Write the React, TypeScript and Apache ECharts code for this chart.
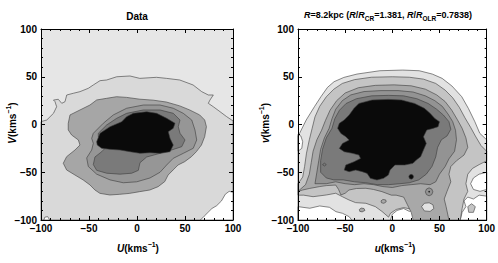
import React, { useEffect, useRef } from "react";
import * as echarts from "echarts";

// ---------- Left panel ("Data") contour outlines, in (U, V) km/s ----------
const leftFull = [[-100, -100], [100, -100], [100, 100], [-100, 100]];
const leftL2 = [
  [-100, -100], [-100, 3], [-94, 4.7], [-87, 11.7], [-83.7, 18.6], [-85.4, 23.9], [-87, 25.6], [-82, 26.4],
  [-78.4, 22.2], [-75, 23.9], [-73.2, 30.9], [-66.3, 32.7], [-59.4, 34.4], [-50.7, 37.9], [-45.5, 41.4],
  [-38.5, 45.9], [-31.6, 46.6], [-21.1, 50], [-7.3, 50.8], [2.9, 48.3], [20.3, 49.4], [30.7, 48.3],
  [44.5, 46.6], [58.4, 41.4], [67.4, 34.4], [74.3, 30.9], [79.5, 30.9], [76, 25.6], [74.3, 22.2],
  [79.5, 18.6], [86.5, 13.4], [93.4, 8.2], [98.6, 4.7], [100, 4], [100, -100],
];
const leftWhiteBR = [[66, -100], [70, -96], [74, -92], [78, -88], [83, -85], [88, -80], [92, -73], [96, -70], [100, -71], [100, -100]];
const leftWhiteBL = [[-97, -100], [-96, -97], [-93, -96.5], [-91, -100]];
const leftL3 = [
  [-71.6, 1.2], [-69.8, 10], [-59.4, 15.2], [-49, 20.4], [-42, 25.7], [-31.7, 27.4], [-21.3, 29.1],
  [-10.9, 28.4], [2.9, 26.5], [16.8, 25.5], [30.7, 23.5], [44.5, 19.5], [54.9, 15.2], [65.3, 10],
  [70.5, 4.7], [72.3, -2.3], [70.5, -12.7], [67.1, -21.5], [61.9, -28.4], [56.7, -33.7], [49.7, -38.9],
  [42.8, -42.4], [37.6, -47.6], [32.4, -52.9], [28.9, -59.8], [22, -65.1], [13.3, -68.6], [2.9, -70.3],
  [-7.5, -72.1], [-17.9, -73.1], [-28.3, -73.8], [-38.6, -72.1], [-43.8, -68.6], [-49, -63.3],
  [-56, -58.1], [-64.6, -52.9], [-73.3, -47.6], [-76.8, -40.6], [-73.3, -33.7], [-64.6, -26.7],
  [-59.4, -21.5], [-61.1, -16.2], [-68.1, -11], [-71.6, -5.7],
];
const leftL4 = [
  [-47.2, -14.5], [-45.5, -9.2], [-35.1, 1.3], [-24.7, 10], [-10.8, 17], [6.6, 20.4], [24, 20.4],
  [37.8, 17], [48.2, 11.7], [57, 4.7], [60.4, -5.8], [62.2, -16.2], [58.6, -24.9], [48.2, -30.2],
  [37.8, -35.4], [30.9, -42.4], [24, -50], [13.5, -56], [-0.3, -60], [-14.3, -61], [-28.1, -58],
  [-42, -52], [-50.7, -44], [-52.4, -35], [-47.2, -26.7], [-45.5, -19.7],
];
const leftL5 = [
  [-40.3, -12.8], [-40.3, -9.2], [-31.6, -0.5], [-21.1, 6.5], [-10.8, 11.7], [6.6, 15.2], [24, 15.2],
  [37.8, 11.7], [44.8, 4.7], [43, -2.3], [44.8, -9.2], [50, -16.2], [46.6, -23.2], [36.1, -26.7],
  [24, -30.2], [10.1, -34], [3.1, -40], [1.4, -48], [-5.5, -51], [-17.7, -52], [-31.6, -51],
  [-42, -48], [-45.5, -42], [-43.8, -34], [-36.8, -28.5], [-31.6, -23.2], [-35.1, -18],
];
const leftL6 = [
  [-42, -18], [-38.5, -9.2], [-28.1, -2.3], [-15.9, 2.9], [-10.8, 8.2], [-3.9, 11.7], [10.1, 13.4],
  [20.5, 11.7], [30.9, 6.5], [39.6, 1.3], [37.8, -4], [32.6, -7.5], [34.4, -14.5], [37.8, -21.5],
  [34.4, -28.5], [24, -30.2], [13.5, -29.5], [3.1, -30.2], [-7.3, -28.5], [-17.7, -26.7],
  [-28.1, -26], [-36.8, -24.9], [-41.4, -21.5],
];

// ---------- Right panel (model) contour outlines, in (u, v) km/s ----------
const rightL1 = [
  [-100, -100], [-100, -12], [-98.3, -9.2], [-91.3, 4.7], [-82.6, 18.6], [-75.7, 29.1], [-68.7, 38.9],
  [-61.8, 44.8], [-51.4, 49.3], [-37.5, 52.8], [-13.2, 56.3], [11.1, 57], [28.5, 56.3], [42.4, 52.8],
  [52.8, 48.3], [63.2, 40.3], [73.6, 29.1], [80.6, 16.9], [87.5, 2.9], [92.7, -9.2], [100, -16], [100, -100],
];
const rightWhiteL = [[-100, -10], [-97, -12], [-95, -18], [-96, -25], [-100, -28]];
const rightWhiteBL = [[-100, -86], [-87.5, -87.7], [-77, -85.3], [-66.7, -86.7], [-59.7, -91.3], [-52.8, -93], [-45.8, -96.5], [-43, -100], [-100, -100]];
const rightWhiteBC = [[-2, -100], [0, -94], [5, -90], [12, -88], [18, -91], [24, -89], [30, -92], [33, -100]];
const rightWhiteR1 = [[100, -50], [92, -52], [86, -56], [83, -62], [86, -68], [93, -70], [100, -68]];
const rightWhiteR2 = [[72, -100], [74, -92], [78, -86], [76, -80], [80, -76], [86, -78], [92, -74], [100, -75], [100, -100]];
const rightBlobR = [[80, -86], [84, -83], [88, -86], [86, -92], [81, -92]];
const rightL2 = [
  [-100, -74], [-100, -62], [-95, -55], [-93, -44], [-91, -30], [-88, -16], [-85, -4], [-82, 8], [-77, 19],
  [-70, 29], [-62, 37], [-53, 43], [-40, 47], [-22, 49.5], [0, 50], [18, 49.5], [33, 47.5], [46, 43],
  [56, 36], [64, 28], [71, 18], [77, 7], [83, -3], [88, -12], [94, -22], [100, -28], [100, -38], [92, -42],
  [85, -46], [80, -52], [78, -62], [80, -70], [76, -78], [74, -88], [72, -100], [34, -100], [30, -93],
  [22, -89], [12, -87], [4, -89], [-2, -93], [-4, -97], [-11, -91], [-18, -86], [-28, -82.5], [-39, -81.8],
  [-46, -79], [-53, -75.6], [-60, -72], [-70, -73.8], [-84, -75.6], [-94, -74],
];
const rightL3 = [
  [-100, -70], [-92, -63], [-88, -52], [-86, -40], [-84, -28], [-80, -16], [-75, -6], [-71, 4], [-66, 15],
  [-59, 25], [-50, 33], [-36, 38.5], [-18, 41], [2, 41.5], [20, 40.5], [35, 37], [47, 31], [56, 24],
  [63, 15], [69, 5], [74, -4], [78, -14], [80, -24], [76, -32], [68, -38], [62, -44], [60, -52], [62, -60],
  [58, -70], [55, -78], [57, -86], [60, -100], [22, -100], [20, -92], [16, -84], [12, -76], [4, -74],
  [-1, -74], [-11, -70.3], [-20, -68], [-28, -66.8], [-38, -67], [-46, -68.6], [-50, -72], [-54.5, -73.8],
  [-57, -68], [-60, -63.4], [-70, -64], [-77, -65], [-88, -67], [-95, -68.6],
];
const rightL4 = [
  [-82, -62], [-80, -50], [-78, -38], [-76, -26], [-72, -14], [-67, -4], [-64, 6], [-60, 16], [-53, 25],
  [-44, 31], [-30, 34.5], [-12, 35.5], [6, 35.5], [22, 34], [35, 30], [45, 25], [53, 19], [59, 11],
  [64, 3], [67, -6], [68, -16], [66, -28], [60, -36], [56, -44], [50, -52], [46, -60], [40, -63],
  [30, -62], [20, -63], [10, -64], [0, -66], [-10, -65], [-20, -63], [-30, -62], [-40, -63], [-50, -62],
  [-60, -60], [-70, -62],
];
const rightL5 = [
  [-76, -50], [-76, -38], [-74, -26], [-70, -14], [-64, -4], [-61, 6], [-56, 15], [-49, 22], [-38, 27],
  [-22, 30], [-4, 30.5], [12, 30], [26, 27], [38, 22], [47, 16], [54, 10], [60, 3], [62, -5], [58, -12],
  [52, -16], [48, -24], [46, -34], [42, -44], [36, -52], [28, -58], [18, -61], [8, -62], [-4, -63],
  [-16, -63], [-28, -61], [-40, -60], [-52, -58], [-62, -58], [-70, -56],
];
const rightL6 = [
  [-40.6, 16.9], [-35.4, 22.1], [-21.5, 25.6], [-4.2, 26.3], [9.7, 25.6], [23.6, 22.1], [34, 16.9],
  [40, 11.7], [45, 6.4], [50, 2.9], [48.5, -2.3], [43, -4.1], [36.5, -5.8], [33, -12.8], [36, -19.8],
  [33, -26.7], [30, -33.7], [25.4, -37.2], [21.9, -40.7], [13.2, -42.4], [2.8, -42.4], [-2.4, -47.7],
  [-4.2, -52.9], [-9.4, -56.4], [-16.3, -58.1], [-23.3, -56.4], [-26.7, -51.2], [-31.9, -49.4],
  [-38.9, -47.7], [-45.8, -49.4], [-51, -47.7], [-49.3, -42.4], [-40.6, -39], [-33.7, -35.5],
  [-35.4, -32], [-42.3, -30.2], [-51, -28.5], [-56.2, -25], [-52.8, -19.8], [-45.8, -16.3],
  [-49.3, -12.8], [-54.5, -9.3], [-58, -4], [-56.2, 1.2], [-51, 4.7], [-45.8, 9.9],
];
const rightDot1 = [[17.5, -54.7], [18.2, -52.9], [20, -52.2], [21.8, -52.9], [22.5, -54.7], [21.8, -56.5], [20, -57.2], [18.2, -56.5]];
const rightRing = [[35, -70.5], [36.2, -67.6], [39, -66.3], [41.8, -67.6], [43, -70.5], [41.8, -73.4], [39, -74.7], [36.2, -73.4]];
const rightRingDot = [[38, -70.5], [39, -69.5], [40, -70.5], [39, -71.5]];
const rightBlobA = [[-35, -89], [-33, -87.5], [-30, -88], [-29, -90], [-32, -91.5], [-34.5, -91]];
const rightBlobB = [[-12, -80], [-10, -78.5], [-7, -79], [-6.5, -81], [-9, -82.5], [-11.5, -82]];
const rightBlobC = [[31, -86], [34, -82.5], [39, -82], [43, -84], [44, -88], [40, -91], [34, -90.5]];
const rightBlobD = [[-74, -42], [-72, -40.5], [-70, -42], [-72, -43.5]];

// level colours
const leftColors = ["#e6e6e6", "#d9d9d9", "#ffffff", "#a6a6a6", "#969696", "#7a7a7a", "#0a0a0a"];
const rightColors = ["#ffffff", "#e2e2e2", "#c4c4c4", "#a8a8a8", "#939393", "#7a7a7a", "#0a0a0a"];

type Layer = { pts: number[][]; level: number; line: boolean };

const leftLayers: Layer[] = [
  { pts: leftFull, level: 0, line: false },
  { pts: leftL2, level: 1, line: true },
  { pts: leftWhiteBR, level: 2, line: true },
  { pts: leftWhiteBL, level: 2, line: true },
  { pts: leftL3, level: 3, line: true },
  { pts: leftL4, level: 4, line: true },
  { pts: leftL5, level: 5, line: true },
  { pts: leftL6, level: 6, line: true },
];
const rightLayers: Layer[] = [
  { pts: rightL1, level: 1, line: true },
  { pts: rightWhiteL, level: 0, line: true },
  { pts: rightWhiteBL, level: 0, line: true },
  { pts: rightWhiteBC, level: 0, line: true },
  { pts: rightWhiteR1, level: 0, line: true },
  { pts: rightWhiteR2, level: 0, line: true },
  { pts: rightBlobR, level: 2, line: true },
  { pts: rightL2, level: 2, line: true },
  { pts: rightL3, level: 3, line: true },
  { pts: rightBlobC, level: 1, line: true },
  { pts: rightBlobA, level: 3, line: true },
  { pts: rightBlobB, level: 3, line: true },
  { pts: rightL4, level: 4, line: true },
  { pts: rightRing, level: 4, line: true },
  { pts: rightRingDot, level: 6, line: false },
  { pts: rightL5, level: 5, line: true },
  { pts: rightBlobD, level: 5, line: true },
  { pts: rightL6, level: 6, line: true },
  { pts: rightDot1, level: 6, line: true },
];

const ticks = { min: -100, max: 100, interval: 50 };
const FONT = "'Liberation Sans', Arial, sans-serif";

function makeSeries(layers: Layer[], colors: string[], axisIdx: number) {
  return {
    type: "custom",
    xAxisIndex: axisIdx,
    yAxisIndex: axisIdx,
    silent: true,
    z: 2,
    data: layers.map((_, i) => [0, 0, i]),
    renderItem: (params: any, api: any) => {
      const layer = layers[params.dataIndex];
      const points = layer.pts.map((p) => api.coord(p));
      return {
        type: "polygon",
        shape: { points },
        style: {
          fill: colors[layer.level],
          stroke: layer.line ? "#3a3a3a" : null,
          lineWidth: 0.6,
        },
      };
    },
  };
}

function axis(kind: "x" | "y", grid: number, pos: string, labels: boolean) {
  return {
    type: "value",
    gridIndex: grid,
    position: pos,
    min: ticks.min,
    max: ticks.max,
    interval: ticks.interval,
    z: 10,
    axisLine: { show: true, onZero: false, lineStyle: { color: "#000", width: 1 } },
    axisTick: { show: true, inside: true, length: 4, lineStyle: { color: "#000", width: 1 } },
    minorTick: { show: true, splitNumber: 5, length: 2, lineStyle: { color: "#000", width: 1 } },
    splitLine: { show: false },
    minorSplitLine: { show: false },
    axisLabel: {
      show: labels,
      color: "#000",
      fontSize: 10,
      fontWeight: "bold",
      fontFamily: FONT,
      margin: kind === "x" ? 3 : 4,
      formatter: (v: number) => String(v).replace("-", "\u2212"),
    },
  };
}

const baseRich = {
  n: { fontSize: 10, fontWeight: "bold", fontFamily: FONT, fill: "#000", lineHeight: 14 },
  i: { fontSize: 10, fontWeight: "bold", fontStyle: "italic", fontFamily: FONT, fill: "#000", lineHeight: 14 },
  sup: { fontSize: 7, fontWeight: "bold", fontFamily: FONT, fill: "#000", lineHeight: 8, verticalAlign: "top" },
  sub: { fontSize: 7, fontWeight: "bold", fontFamily: FONT, fill: "#000", lineHeight: 8, verticalAlign: "bottom" },
  t: { fontSize: 9, fontWeight: "bold", fontFamily: FONT, fill: "#000", lineHeight: 13 },
  ti: { fontSize: 9, fontWeight: "bold", fontStyle: "italic", fontFamily: FONT, fill: "#000", lineHeight: 13 },
  ts: { fontSize: 6.5, fontWeight: "bold", fontFamily: FONT, fill: "#000", lineHeight: 7, verticalAlign: "bottom" },
};

function label(x: number, y: number, text: string, rotation = 0) {
  return {
    type: "text",
    x,
    y,
    rotation,
    z: 20,
    style: { text, rich: baseRich, align: "center", verticalAlign: "middle" },
  };
}

export default function App() {
  const ref = useRef<HTMLDivElement>(null);
  useEffect(() => {
    if (!ref.current) return;
    const chart = echarts.init(ref.current, null, { renderer: "svg" });
    chart.setOption({
      animation: false,
      backgroundColor: "#fff",
      grid: [
        { left: 41, top: 29, width: 192, height: 191, show: false },
        { left: 298, top: 29, width: 192, height: 191, show: false },
      ],
      xAxis: [axis("x", 0, "bottom", true), axis("x", 0, "top", false), axis("x", 1, "bottom", true), axis("x", 1, "top", false)],
      yAxis: [axis("y", 0, "left", true), axis("y", 0, "right", false), axis("y", 1, "left", true), axis("y", 1, "right", false)],
      series: [makeSeries(leftLayers, leftColors, 0), makeSeries(rightLayers, rightColors, 2)],
      graphic: [
        label(137, 16, "{n|Data}"),
        label(388, 15, "{ti|R}{t|=8.2kpc (}{ti|R}{t|/}{ti|R}{ts|CR}{t|=1.381, }{ti|R}{t|/}{ti|R}{ts|OLR}{t|=0.7838)}"),
        label(138, 248, "{i|U}{n|(kms}{sup|\u22121}{n|)}"),
        label(395, 248, "{i|u}{n|(kms}{sup|\u22121}{n|)}"),
        label(12, 123, "{i|V}{n|(kms}{sup|\u22121}{n|)}", Math.PI / 2),
        label(265, 123, "{i|v}{n|(kms}{sup|\u22121}{n|)}", Math.PI / 2),
      ],
    });
    return () => chart.dispose();
  }, []);
  return <div ref={ref} style={{ position: "absolute", left: 0, top: 0, width: 498, height: 263 }} />;
}
